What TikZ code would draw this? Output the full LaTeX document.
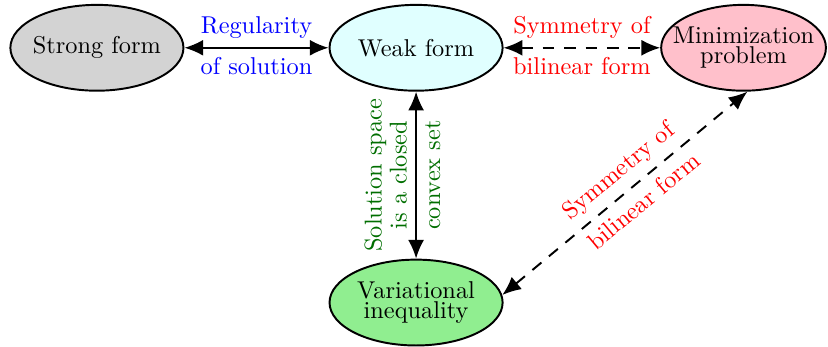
\documentclass[tikz,border=0pt]{standalone}
\usetikzlibrary{arrows.meta,shapes.geometric}
\definecolor{strongfill}{RGB}{211,211,211}
\definecolor{weakfill}{RGB}{224,255,255}
\definecolor{minifill}{RGB}{255,192,203}
\definecolor{varfill}{RGB}{144,238,144}
\definecolor{labgreen}{RGB}{0,110,0}
\tikzset{
  form/.style={ellipse,draw,thick,minimum width=2.5cm,minimum height=1.24cm,inner xsep=-1.8mm,align=center},
  link/.style={thick,{Latex[length=2.7mm,width=2.3mm]}-{Latex[length=2.7mm,width=2.3mm]}},
  dashlink/.style={link,dash pattern=on 4.8pt off 4pt},
}
\begin{document}
\begin{tikzpicture}[scale=1.0]
  \def\L{4.61} \def\R{4.73} \def\V{3.68}
  \useasboundingbox (-6.01,-4.32) rectangle (5.95,0.69);
  % nodes
  \node[form,fill=strongfill] (strong) at (-\L,0) {Strong form};
  \node[form,fill=weakfill] (weak) at (0,0) {Weak form};
  \node[form,fill=minifill,minimum width=2.38cm] (mini) at (\R,0) {Minimization\\[-4pt]problem};
  \node[form,fill=varfill] (var) at (0,-\V) {Variational\\[-4pt]inequality};
  % links
  \draw[link] (strong) -- (weak)
    node[midway,above,text=blue] {Regularity}
    node[midway,below,text=blue] {of solution};
  \draw[dashlink] (weak) -- (mini)
    node[midway,above,text=red] {Symmetry of}
    node[midway,below,text=red] {bilinear form};
  \draw[link] (var) -- (weak)
    node[midway,sloped,above,align=center,text=labgreen] {Solution space\\[-1.7pt]is a closed}
    node[midway,sloped,below,text=labgreen] {convex set};
  \draw[dashlink] (var.5) -- (mini.275)
    node[pos=0.53,sloped,above,text=red] {Symmetry of}
    node[pos=0.53,sloped,below,text=red] {bilinear form};
\end{tikzpicture}
\end{document}
